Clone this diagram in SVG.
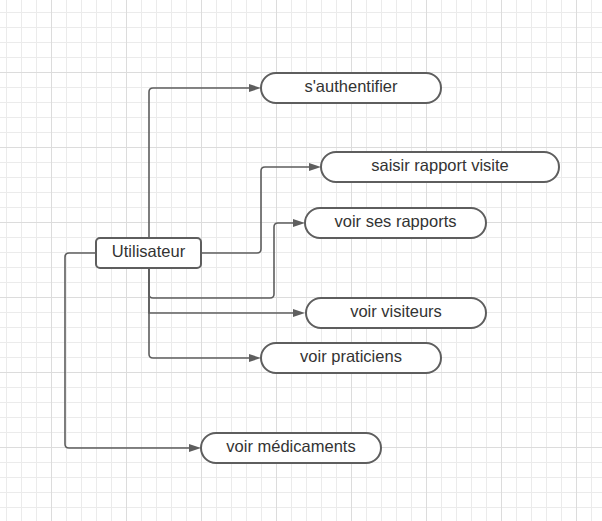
<svg xmlns="http://www.w3.org/2000/svg" width="602" height="521" viewBox="0 0 602 521">
<style>
.node{fill:#ffffff;stroke:#5e5e5e;stroke-width:2}
.lbl{font-family:"Liberation Sans",Arial,sans-serif;font-size:16.5px;fill:#333333;text-anchor:middle}
.conn{fill:none;stroke:#5e5e5e;stroke-width:1.6;marker-end:url(#arr)}
</style>
<defs>
<pattern id="grid" patternUnits="userSpaceOnUse" x="51" y="72" width="75" height="75">
<path d="M15.5 0V75M30.5 0V75M45.5 0V75M60.5 0V75M0 15.5H75M0 30.5H75M0 45.5H75M0 60.5H75" stroke="#ebebeb" stroke-width="1" fill="none"/>
<path d="M0.5 0V75M0 0.5H75" stroke="#dcdcdc" stroke-width="1" fill="none"/>
</pattern>
<marker id="arr" viewBox="0 0 12 8" markerWidth="12" markerHeight="8" refX="6" refY="4" orient="auto" markerUnits="userSpaceOnUse">
<path d="M0 0L12 4L0 8z" fill="#5e5e5e"/>
</marker>
</defs>
<rect x="0" y="0" width="602" height="521" fill="#ffffff"/>
<rect x="0" y="0" width="602" height="521" fill="url(#grid)"/>
<g id="connectors">
<path class="conn" d="M149 238V92Q149 88 153 88H255"/>
<path class="conn" d="M201 253H257Q261 253 261 249V171Q261 167 265 167H315"/>
<path class="conn" d="M149 268V294Q149 298 153 298H270Q274 298 274 294V227Q274 223 278 223H299"/>
<path class="conn" d="M149 268V313H299"/>
<path class="conn" d="M149 268V354Q149 358 153 358H255"/>
<path class="conn" d="M96 253H69Q65 253 65 257V444Q65 448 69 448H195"/>
</g>
<g id="n-utilisateur"><rect class="node" x="96" y="238" width="105" height="30" rx="4"/><text class="lbl" x="148.5" y="256.5">Utilisateur</text></g>
<g id="n-authentifier"><rect class="node" x="261" y="73" width="180" height="30" rx="15"/><text class="lbl" x="351" y="91.5">s'authentifier</text></g>
<g id="n-saisir"><rect class="node" x="321" y="152" width="238" height="30" rx="15"/><text class="lbl" x="440" y="170.5">saisir rapport visite</text></g>
<g id="n-rapports"><rect class="node" x="305" y="208" width="181" height="30" rx="15"/><text class="lbl" x="395.5" y="226.5">voir ses rapports</text></g>
<g id="n-visiteurs"><rect class="node" x="306" y="298" width="180" height="30" rx="15"/><text class="lbl" x="396" y="316.5">voir visiteurs</text></g>
<g id="n-praticiens"><rect class="node" x="261" y="343" width="180" height="30" rx="15"/><text class="lbl" x="351" y="361.5">voir praticiens</text></g>
<g id="n-medicaments"><rect class="node" x="201" y="433" width="180" height="30" rx="15"/><text class="lbl" x="291" y="451.5">voir médicaments</text></g>
</svg>
